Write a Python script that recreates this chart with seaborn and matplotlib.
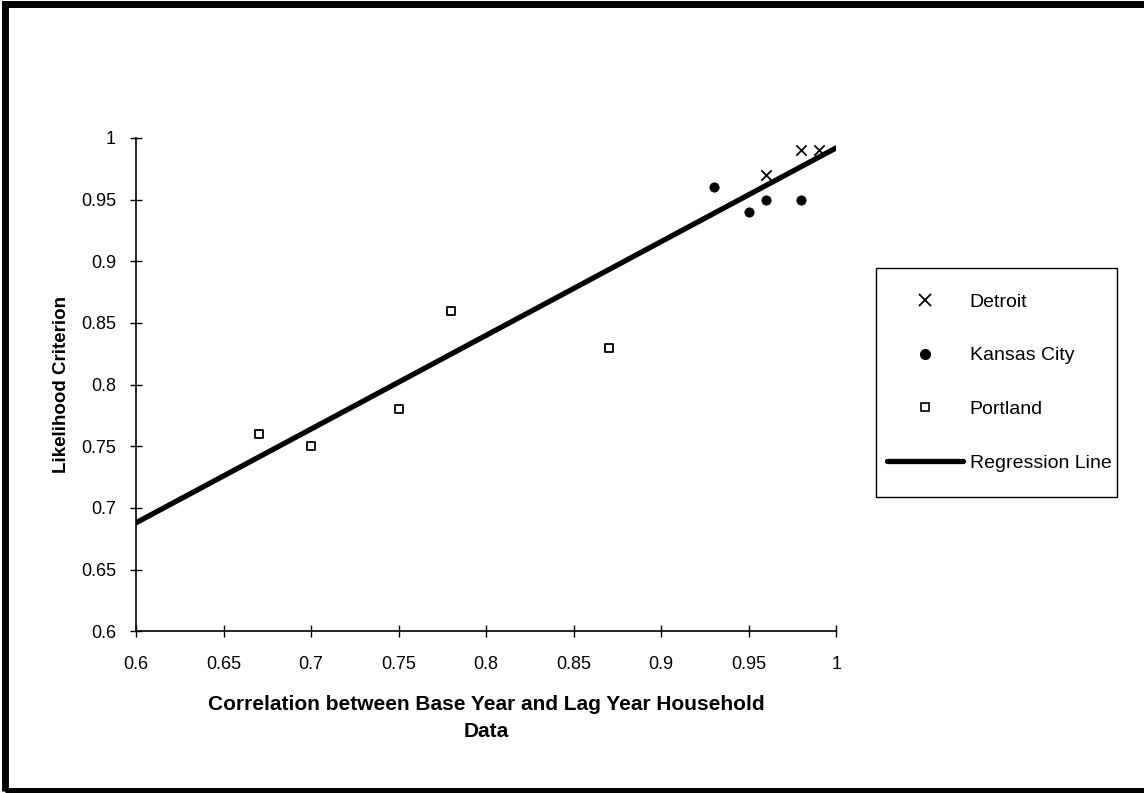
import matplotlib
matplotlib.use("Agg")
import matplotlib.pyplot as plt
import seaborn as sns
from matplotlib.patches import Rectangle
from matplotlib.lines import Line2D

sns.set_theme(style="white")
plt.rcParams['font.family'] = ['Liberation Sans', 'DejaVu Sans']

# Data
detroit_x = [0.96, 0.98, 0.99]
detroit_y = [0.97, 0.99, 0.99]
kc_x = [0.93, 0.95, 0.96, 0.98]
kc_y = [0.96, 0.94, 0.95, 0.95]
portland_x = [0.67, 0.70, 0.75, 0.78, 0.87]
portland_y = [0.76, 0.75, 0.78, 0.86, 0.83]
reg_x = [0.6, 1.0]
reg_y = [0.688, 0.992]
x_ticks = [0.6, 0.65, 0.7, 0.75, 0.8, 0.85, 0.9, 0.95, 1.0]
x_labels = ["0.6", "0.65", "0.7", "0.75", "0.8", "0.85", "0.9", "0.95", "1"]
y_ticks = [0.6, 0.65, 0.7, 0.75, 0.8, 0.85, 0.9, 0.95, 1.0]
y_labels = ["0.6", "0.65", "0.7", "0.75", "0.8", "0.85", "0.9", "0.95", "1"]

fig = plt.figure(figsize=(11.44, 7.93), dpi=100)
ax = fig.add_axes([0.119, 0.204, 0.612, 0.622])

sns.lineplot(x=reg_x, y=reg_y, ax=ax, color='black', linewidth=3.8, zorder=2)
sns.scatterplot(x=detroit_x, y=detroit_y, ax=ax, marker='x', s=55, color='black',
                linewidth=1.3, zorder=3)
sns.scatterplot(x=kc_x, y=kc_y, ax=ax, marker='o', s=45, color='black',
                edgecolor='black', zorder=3)
sns.scatterplot(x=portland_x, y=portland_y, ax=ax, marker='s', s=40, facecolor='white',
                edgecolor='black', linewidth=1.3, zorder=3)

ax.set_xlim(0.6, 1.0)
ax.set_ylim(0.6, 1.0)
ax.set_xticks(x_ticks)
ax.set_xticklabels(x_labels)
ax.set_yticks(y_ticks)
ax.set_yticklabels(y_labels)
ax.tick_params(axis='both', direction='inout', length=9, width=1, color='black',
               labelsize=13, labelcolor='black', bottom=True, left=True)
ax.tick_params(axis='x', pad=13)
ax.tick_params(axis='y', pad=10)
for s in ['top', 'right']:
    ax.spines[s].set_visible(False)
for s in ['left', 'bottom']:
    ax.spines[s].set_color('black')
    ax.spines[s].set_linewidth(1.2)
ax.grid(False)

ax.set_xlabel("Correlation between Base Year and Lag Year Household\nData",
              fontsize=15, fontweight='bold', color='black', labelpad=16,
              linespacing=1.55)
ax.set_ylabel("Likelihood Criterion", fontsize=13.5, fontweight='bold',
              color='black', labelpad=8)

handles = [
    Line2D([], [], linestyle='none', marker='x', color='black', markersize=8, markeredgewidth=1.3),
    Line2D([], [], linestyle='none', marker='o', color='black', markersize=7),
    Line2D([], [], linestyle='none', marker='s', markerfacecolor='white', markeredgecolor='black',
           markersize=6, markeredgewidth=1.2),
    Line2D([], [], color='black', linewidth=3.8),
]
leg = fig.legend(handles, ["Detroit", "Kansas City", "Portland", "Regression Line"],
                 loc='center left', bbox_to_anchor=(0.7753, 0.5177), frameon=False,
                 fontsize=14, labelspacing=1.85, handlelength=3.9, handletextpad=0.36,
                 borderpad=0, borderaxespad=0)
for t in leg.get_texts():
    t.set_color('black')

fig.patches.append(Rectangle((0.7657, 0.3733), 0.2107, 0.2888, transform=fig.transFigure,
                             fill=False, edgecolor='black', linewidth=1.0))
fig.patches.append(Rectangle((0.004, 0.003), 1.2, 0.9925, transform=fig.transFigure,
                             fill=False, edgecolor='black', linewidth=5))

fig.savefig("out.png", dpi=100)
